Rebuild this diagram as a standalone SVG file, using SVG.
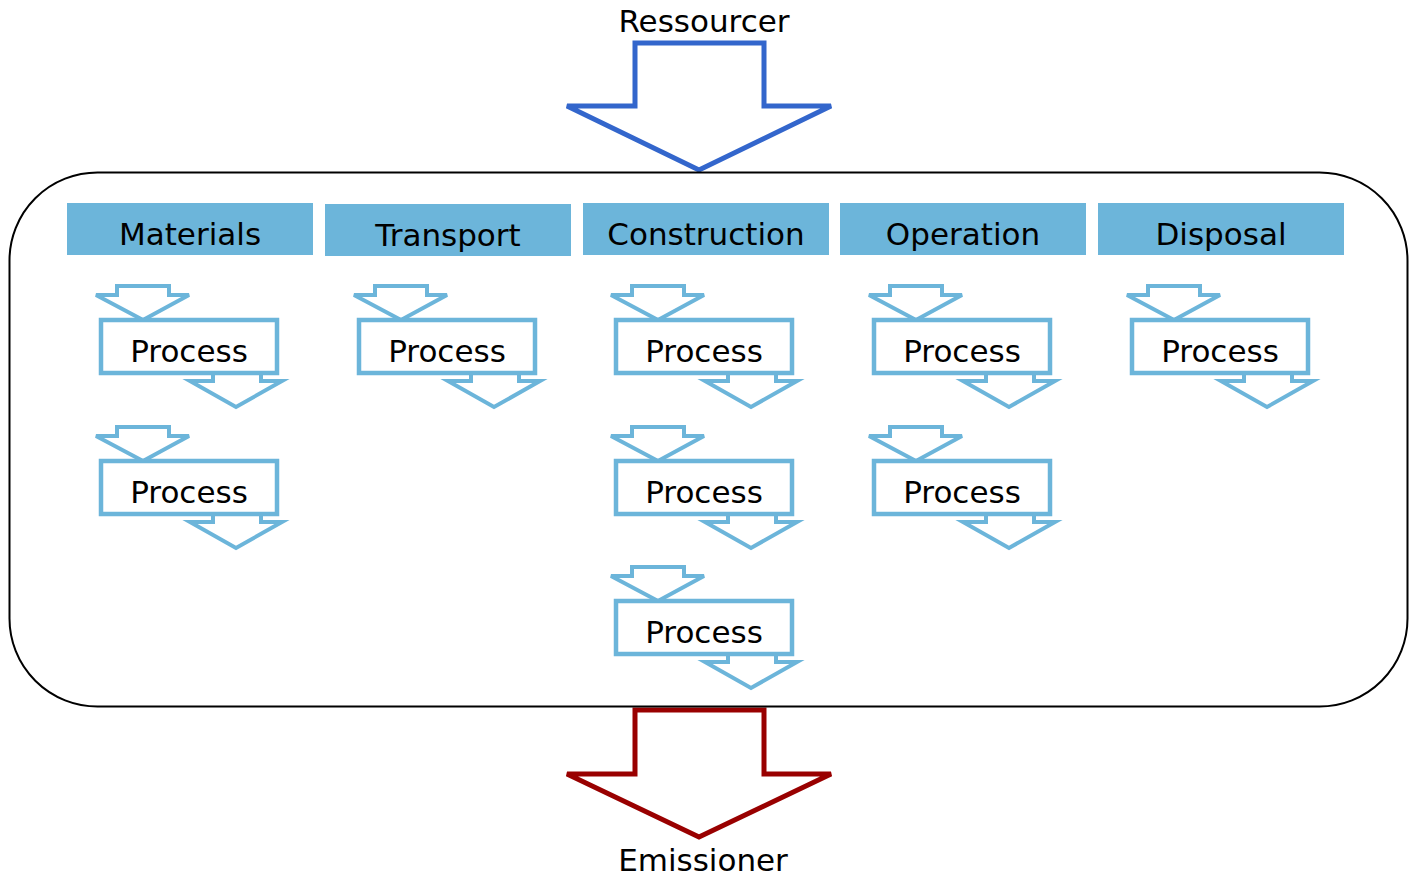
<svg xmlns="http://www.w3.org/2000/svg" xmlns:xlink="http://www.w3.org/1999/xlink" width="1414" height="879" viewBox="0 0 1414 879">
<style>
text{font-family:"DejaVu Sans","Noto Sans",sans-serif;font-size:31px;fill:#000;text-anchor:middle}
.hdr{fill:#6cb5da}
.pa{fill:#fff;stroke:#6cb5da;stroke-width:4;stroke-linejoin:miter}
.pb{fill:#fff;stroke:#6cb5da;stroke-width:4.5}
.big{fill:#fff;stroke-width:5;stroke-linejoin:miter}
</style>
<defs>
<g id="proc">
<polygon class="pa" points="16,-34 68,-34 68,-25 88,-25 42,0 -5,-25 16,-25"/>
<polygon class="pa" points="112,50 160,50 160,61 181,61 135,87 89,61 112,61"/>
<rect class="pb" x="0" y="0" width="176" height="53"/>
</g>
</defs>
<g id="connectors">
<polygon id="ressourcer-arrow" class="big" stroke="#3366cc" points="635,43 764,43 764,106 831,106 699,170 567,106 635,106"/>
<polygon id="emissioner-arrow" class="big" stroke="#990000" points="635,710 764,710 764,774 831,774 699,837 567,774 635,774"/>
</g>
<g id="system">
<rect x="9.5" y="172.5" width="1398" height="534" rx="88" ry="88" fill="none" stroke="#000" stroke-width="2"/>
</g>
<g id="label-ressourcer"><text x="704" y="32">Ressourcer</text></g>
<g id="label-emissioner"><text x="703" y="871">Emissioner</text></g>
<g id="hdr-materials"><rect class="hdr" x="67" y="203" width="246" height="52"/><text x="190" y="245">Materials</text></g>
<g id="hdr-transport"><rect class="hdr" x="325" y="204" width="246" height="52"/><text x="448" y="246">Transport</text></g>
<g id="hdr-construction"><rect class="hdr" x="583" y="203" width="246" height="52"/><text x="706" y="245">Construction</text></g>
<g id="hdr-operation"><rect class="hdr" x="840" y="203" width="246" height="52"/><text x="963" y="245">Operation</text></g>
<g id="hdr-disposal"><rect class="hdr" x="1098" y="203" width="246" height="52"/><text x="1221" y="245">Disposal</text></g>
<g id="proc-m1"><use xlink:href="#proc" href="#proc" x="101" y="320"/><text x="189" y="362">Process</text></g>
<g id="proc-m2"><use xlink:href="#proc" href="#proc" x="101" y="461"/><text x="189" y="503">Process</text></g>
<g id="proc-t1"><use xlink:href="#proc" href="#proc" x="359" y="320"/><text x="447" y="362">Process</text></g>
<g id="proc-c1"><use xlink:href="#proc" href="#proc" x="616" y="320"/><text x="704" y="362">Process</text></g>
<g id="proc-c2"><use xlink:href="#proc" href="#proc" x="616" y="461"/><text x="704" y="503">Process</text></g>
<g id="proc-c3"><use xlink:href="#proc" href="#proc" x="616" y="601"/><text x="704" y="643">Process</text></g>
<g id="proc-o1"><use xlink:href="#proc" href="#proc" x="874" y="320"/><text x="962" y="362">Process</text></g>
<g id="proc-o2"><use xlink:href="#proc" href="#proc" x="874" y="461"/><text x="962" y="503">Process</text></g>
<g id="proc-d1"><use xlink:href="#proc" href="#proc" x="1132" y="320"/><text x="1220" y="362">Process</text></g>
</svg>
